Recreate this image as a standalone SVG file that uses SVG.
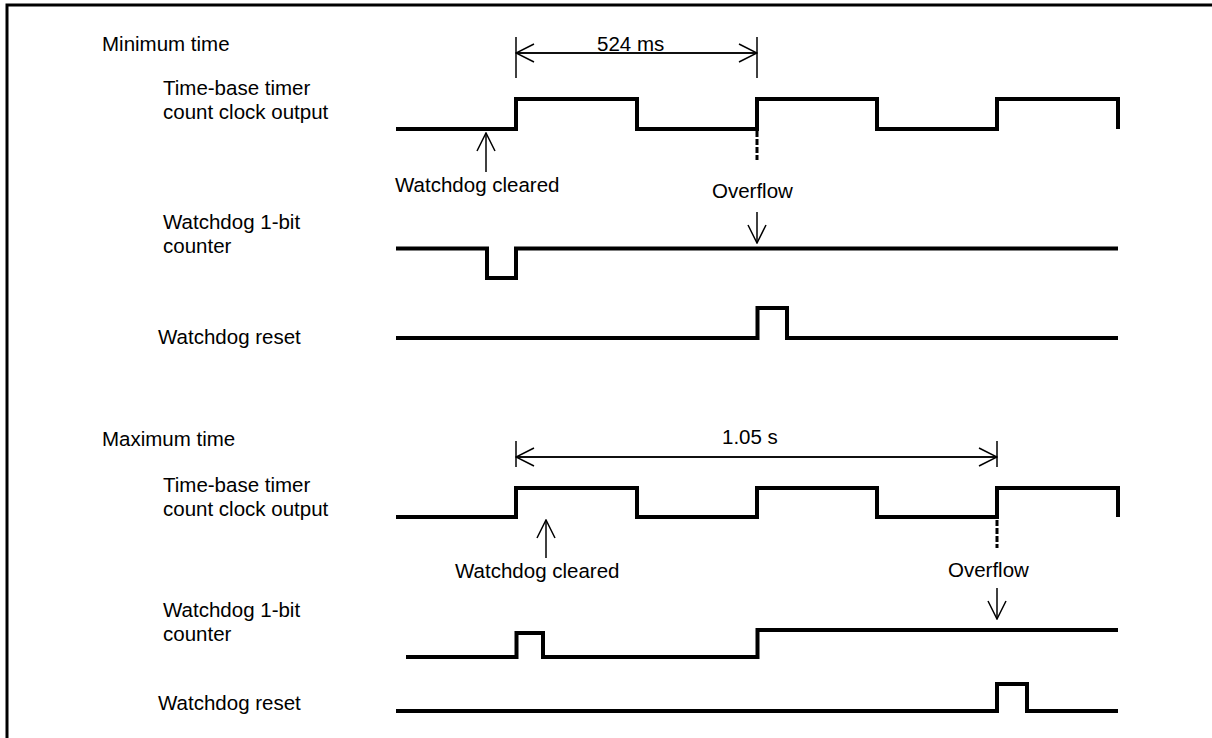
<svg xmlns="http://www.w3.org/2000/svg" width="1212" height="738" viewBox="0 0 1212 738">
<defs>
<style>
.bg{fill:#fff}
.frame{fill:none;stroke:#000;stroke-width:3}
.wave{fill:none;stroke:#000;stroke-width:4;stroke-linejoin:miter;stroke-linecap:butt}
.thin{fill:none;stroke:#000;stroke-width:1.5}
.dash{fill:none;stroke:#000;stroke-width:3;stroke-dasharray:6 2}
text{font-family:"Liberation Sans",Arial,sans-serif;font-size:20.5px;fill:#000}
</style>
<marker id="ah" viewBox="0 0 20 20" refX="19" refY="10" markerWidth="20" markerHeight="20" markerUnits="userSpaceOnUse" orient="auto">
<path d="M1,1 L19,10 L1,19" fill="none" stroke="#000" stroke-width="1.5"/>
</marker>
</defs>
<rect class="bg" x="0" y="0" width="1212" height="738"/>
<path class="frame" d="M7,738 V5 H1212"/>

<g id="labels-min">
<text x="102" y="51">Minimum time</text>
<text x="597" y="51">524 ms</text>
<text x="163" y="95">Time-base timer</text>
<text x="163" y="119">count clock output</text>
<text x="395" y="192">Watchdog cleared</text>
<text x="712" y="198">Overflow</text>
<text x="163" y="229">Watchdog 1-bit</text>
<text x="163" y="253">counter</text>
<text x="158" y="344">Watchdog reset</text>
</g>

<g id="labels-max">
<text x="102" y="446">Maximum time</text>
<text x="722" y="444">1.05 s</text>
<text x="163" y="492">Time-base timer</text>
<text x="163" y="516">count clock output</text>
<text x="455" y="578">Watchdog cleared</text>
<text x="948" y="577">Overflow</text>
<text x="163" y="617">Watchdog 1-bit</text>
<text x="163" y="641">counter</text>
<text x="158" y="710">Watchdog reset</text>
</g>

<g id="signals-min">
<path id="clk-min" class="wave" d="M396,129 H516 V99 H637 V129 H757 V99 H877 V129 H997 V99 H1118 V129"/>
<path id="cnt-min" class="wave" d="M396,248.5 H487 V278 H516 V248.5 H1118"/>
<path id="rst-min" class="wave" d="M396,338 H757.5 V308 H787 V338 H1118"/>
</g>

<g id="signals-max">
<path id="clk-max" class="wave" d="M396,517 H516 V488 H637 V517 H757 V488 H877 V517 H997 V488 H1118 V517"/>
<path id="cnt-max" class="wave" d="M406,657 H516.5 V633 H543 V657 H757.5 V630 H1118"/>
<path id="rst-max" class="wave" d="M396,711 H997 V684 H1027 V711 H1118"/>
</g>

<g id="connectors">
<line class="thin" x1="516" y1="37" x2="516" y2="78"/>
<line class="thin" x1="757" y1="37" x2="757" y2="78"/>
<line class="thin" x1="516" y1="53" x2="757" y2="53" marker-end="url(#ah)"/>
<line class="thin" x1="757" y1="53" x2="516" y2="53" marker-end="url(#ah)"/>
<line class="dash" x1="757" y1="131" x2="757" y2="160"/>
<line class="thin" x1="486" y1="172" x2="486" y2="133" marker-end="url(#ah)"/>
<line class="thin" x1="757" y1="212" x2="757" y2="243" marker-end="url(#ah)"/>

<line class="thin" x1="516" y1="441" x2="516" y2="467"/>
<line class="thin" x1="997" y1="441" x2="997" y2="467"/>
<line class="thin" x1="516" y1="457" x2="997" y2="457" marker-end="url(#ah)"/>
<line class="thin" x1="997" y1="457" x2="516" y2="457" marker-end="url(#ah)"/>
<line class="dash" x1="997" y1="520" x2="997" y2="548"/>
<line class="thin" x1="546" y1="558" x2="546" y2="520" marker-end="url(#ah)"/>
<line class="thin" x1="997" y1="588" x2="997" y2="619" marker-end="url(#ah)"/>
</g>
</svg>
